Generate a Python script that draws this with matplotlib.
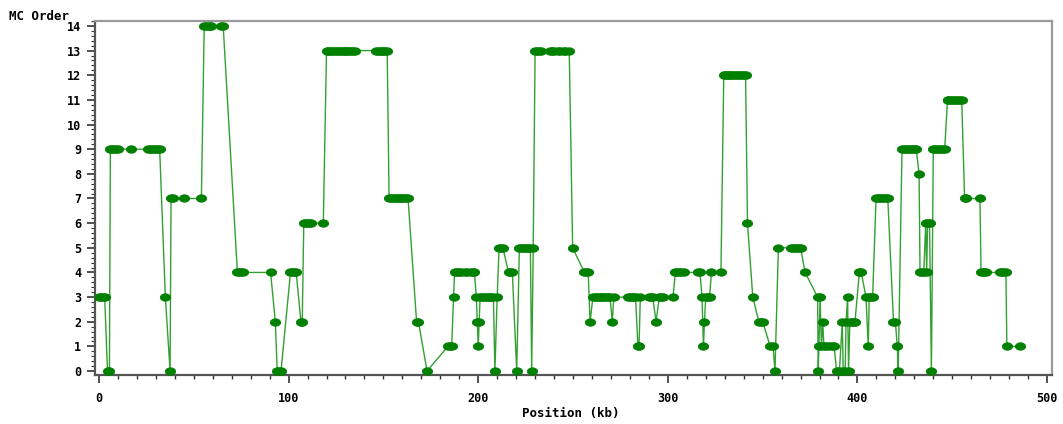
import numpy as np
import matplotlib
matplotlib.use("Agg")
import matplotlib.pyplot as plt
from matplotlib.path import Path
from matplotlib.ticker import MultipleLocator

# MC order along the sequence, position in kb
position_kb = [
    0, 1, 2, 3, 4.5, 5.5, 6, 7, 8, 9, 10, 17, 26, 27, 28, 29, 30, 31, 32,
    35, 37.5, 38, 39, 44.8, 54, 55.5, 56.5, 57.5, 58.5, 59, 64.5, 65.5,
    73, 74, 75, 76, 90.5, 93, 94, 95, 96, 101, 102, 103, 104, 106.5, 107.2,
    108, 109, 110, 111, 112, 118.3,
    120, 121, 122, 123, 124, 125, 126, 127, 128, 129, 130, 131, 132, 133, 134, 135,
    146, 147, 148, 149, 150, 151, 152,
    153, 154, 155, 156, 157, 158, 159, 160, 161, 162, 163, 167.5, 168.5, 173,
    184, 185, 186, 187, 187.5, 189, 190, 191, 193, 194, 196, 197, 198,
    199, 199.5, 200, 200.5, 201, 202, 203, 204, 205, 206, 207, 208, 208.8, 210,
    211, 212, 213, 216, 217, 218, 220.3, 221.7, 222.6, 223.5, 224.5, 225.5, 226.5, 227.5,
    228.2, 229, 230, 231, 232, 233, 238, 239, 240, 242, 243, 245, 246, 248,
    249.8, 256, 257, 258, 259, 260.5, 261.5, 262.5, 263.5, 264.5, 265.5, 266.5, 267.5,
    268.5, 269.5, 270.7, 271.5, 279, 280, 281, 282, 283, 284.2, 284.8, 285.5,
    290, 291, 292, 293.8, 295.5, 296.5, 297.2, 302.7, 304, 305, 306, 307, 308.5,
    316, 317, 318, 318.8, 319.3, 320, 321, 322, 323, 328, 329.5,
    330, 331, 332, 333, 334, 335, 336, 337, 338, 339, 340, 341,
    342, 344.8, 348, 349, 350, 354, 355.5, 356.5, 358.3,
    365, 366, 367, 368, 369, 370, 372.4,
    379, 379.3, 379.7, 380.3, 381, 381.7, 382.3, 383.5, 385, 386.5, 387.7,
    389, 390.5, 392, 392.5, 393.5, 394, 394.8, 395.3, 396, 397, 398, 398.7,
    401, 401.5, 402, 404.5, 405.7, 406.2, 407, 408,
    409.8, 411, 412, 413, 414, 415, 416, 419, 420, 421, 421.5,
    423.5, 424.5, 425.5, 426.5, 427.5, 428.5, 429.5, 430.5, 431, 432.5,
    433, 434, 435, 436, 436.5, 437, 438, 439,
    440, 441, 442, 443, 444, 445, 446, 447.5, 448, 449, 450, 451, 452, 453, 454, 455,
    456.5, 457.5, 464.6, 465.2, 466, 467, 468, 475, 476, 477, 478.3, 478.8, 485.8,
]
mc_order = [
    3, 3, 3, 3, 0, 0, 9, 9, 9, 9, 9, 9, 9, 9, 9, 9, 9, 9, 9,
    3, 0, 7, 7, 7, 7, 14, 14, 14, 14, 14, 14, 14,
    4, 4, 4, 4, 4, 2, 0, 0, 0, 4, 4, 4, 4, 2, 2,
    6, 6, 6, 6, 6, 6,
    13, 13, 13, 13, 13, 13, 13, 13, 13, 13, 13, 13, 13, 13, 13, 13,
    13, 13, 13, 13, 13, 13, 13,
    7, 7, 7, 7, 7, 7, 7, 7, 7, 7, 7, 2, 2, 0,
    1, 1, 1, 3, 4, 4, 4, 4, 4, 4, 4, 4, 4,
    3, 2, 1, 2, 3, 3, 3, 3, 3, 3, 3, 3, 0, 3,
    5, 5, 5, 4, 4, 4, 0, 5, 5, 5, 5, 5, 5, 5,
    0, 5, 13, 13, 13, 13, 13, 13, 13, 13, 13, 13, 13, 13,
    5, 4, 4, 4, 2, 3, 3, 3, 3, 3, 3, 3, 3,
    3, 3, 2, 3, 3, 3, 3, 3, 3, 1, 1, 3,
    3, 3, 3, 2, 3, 3, 3, 3, 4, 4, 4, 4, 4,
    4, 4, 3, 1, 2, 3, 3, 3, 4, 4, 12,
    12, 12, 12, 12, 12, 12, 12, 12, 12, 12, 12, 12,
    6, 3, 2, 2, 2, 1, 1, 0, 5,
    5, 5, 5, 5, 5, 5, 4,
    3, 0, 1, 3, 1, 2, 1, 1, 1, 1, 1,
    0, 0, 2, 0, 0, 2, 3, 0, 2, 2, 2, 2,
    4, 4, 4, 3, 1, 3, 3, 3,
    7, 7, 7, 7, 7, 7, 7, 2, 2, 1, 0,
    9, 9, 9, 9, 9, 9, 9, 9, 9, 8,
    4, 4, 4, 6, 4, 6, 6, 0,
    9, 9, 9, 9, 9, 9, 9, 11, 11, 11, 11, 11, 11, 11, 11, 11,
    7, 7, 7, 4, 4, 4, 4, 4, 4, 4, 4, 1, 1,
]
assert len(position_kb) == len(mc_order)

x_ticks = [0, 100, 200, 300, 400, 500]
y_ticks = list(range(0, 15))

# flat ellipse used as the point marker
t = np.linspace(0, 2 * np.pi, 40)
blob = Path(np.column_stack([np.cos(t), 0.72 * np.sin(t)]), closed=True)

W, H = 1063, 424
fig = plt.figure(figsize=(W / 100, H / 100), dpi=100)
ax = fig.add_axes([95 / W, 1 - 375 / H, (1052 - 95) / W, (375 - 21) / H])

ax.plot(position_kb, mc_order, color="#33a033", lw=1.0, zorder=2)
ax.plot(position_kb, mc_order, ls="none", marker=blob, ms=7.4,
        mfc="#008000", mec="#008000", mew=0.6, zorder=3)

ax.set_xlim(-2.1, 502.6)
ax.set_ylim(-0.16, 14.2)
ax.set_xticks(x_ticks)
ax.set_yticks(y_ticks)
ax.xaxis.set_minor_locator(MultipleLocator(10))
ax.yaxis.set_minor_locator(MultipleLocator(0.2))

tick_font = dict(family="DejaVu Sans Mono", weight="bold", size=8.5)
ax.set_xticklabels([str(v) for v in x_ticks], **tick_font)
ax.set_yticklabels([str(v) for v in y_ticks], **tick_font)
ax.tick_params(axis="x", which="major", length=6, width=1.2, pad=6, color="#333333")
ax.tick_params(axis="x", which="minor", length=3, width=1.0, color="#333333")
ax.tick_params(axis="y", which="major", length=6, width=1.2, pad=4, color="#333333")
ax.tick_params(axis="y", which="minor", length=3, width=0.8, color="#333333")

for side in ("left", "bottom"):
    ax.spines[side].set_color("#555555")
    ax.spines[side].set_linewidth(1.6)
for side in ("top", "right"):
    ax.spines[side].set_color("#9a9a9a")
    ax.spines[side].set_linewidth(1.6)

label_font = dict(family="DejaVu Sans Mono", weight="bold", size=9)
fig.text(9 / W, 1 - 17 / H, "MC Order", ha="left", va="center", **label_font)
fig.text(571 / W, 1 - 414 / H, "Position (kb)", ha="center", va="center", **label_font)

fig.savefig("out.png", dpi=100)
